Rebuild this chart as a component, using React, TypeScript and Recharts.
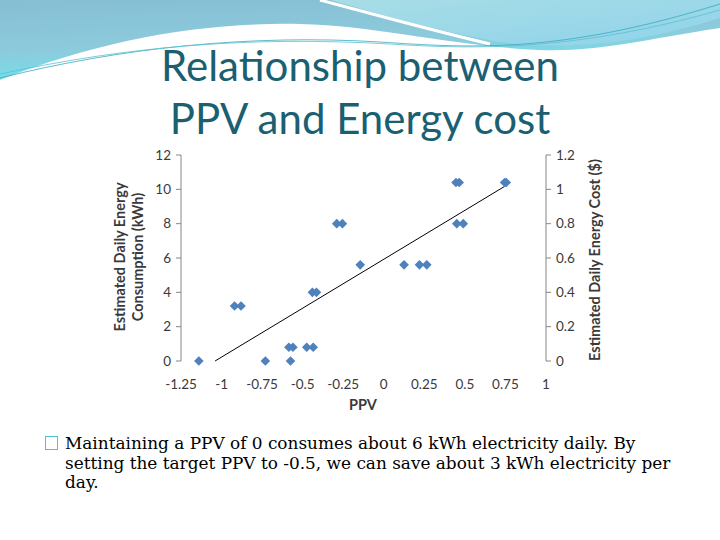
import React from 'react'
import { ScatterChart, Scatter, XAxis, YAxis } from 'recharts'

// PPV vs estimated daily energy consumption (kWh)
const ppv = [
  -1.14, -0.92, -0.88, -0.73, -0.575, -0.585, -0.56, -0.475, -0.435, -0.44, -0.415, -0.29,
  -0.255, -0.145, 0.125, 0.22, 0.265, 0.45, 0.49, 0.445, 0.465, 0.745, 0.755,
]
const kwh = [
  0, 3.2, 3.2, 0, 0, 0.8, 0.8, 0.8, 0.8, 4, 4, 8, 8, 5.6, 5.6, 5.6, 5.6, 8, 8, 10.4, 10.4,
  10.4, 10.4,
]
// same points read on the secondary (cost) axis
const cost = [
  0, 0.32, 0.32, 0, 0, 0.08, 0.08, 0.08, 0.08, 0.4, 0.4, 0.8, 0.8, 0.56, 0.56, 0.56, 0.56, 0.8,
  0.8, 1.04, 1.04, 1.04, 1.04,
]

// linear trend line end points
const trendX = [-1.04, 0.75]
const trendY = [0, 10.2]

const xTicks = [-1.25, -1, -0.75, -0.5, -0.25, 0, 0.25, 0.5, 0.75, 1]
const kwhTicks = [0, 2, 4, 6, 8, 10, 12]
const costTicks = [0, 0.2, 0.4, 0.6, 0.8, 1, 1.2]

const points = ppv.map((x, i) => ({ x, y: kwh[i] }))
const costPoints = ppv.map((x, i) => ({ x, y: cost[i] }))
const trend = trendX.map((x, i) => ({ x, y: trendY[i] }))

const tickStyle = { fill: '#3a3a3a', fontSize: 13.5, fontFamily: 'Lato' }
const axisGray = '#868686'

const Diamond = (props: any) => {
  const { cx, cy } = props
  const r = 4.8
  return (
    <polygon
      points={`${cx},${cy - r} ${cx + r},${cy} ${cx},${cy + r} ${cx - r},${cy}`}
      fill="#4f81bd"
    />
  )
}

const Nothing = () => <g />

function Background() {
  return (
    <svg width={720} height={160} style={{ position: 'absolute', left: 0, top: 0 }}>
      <defs>
        <linearGradient id="bgA" x1="0" y1="0" x2="0.3" y2="1">
          <stop offset="0" stopColor="#86bed4" />
          <stop offset="0.6" stopColor="#8ccbdc" />
          <stop offset="1" stopColor="#6fe3ee" />
        </linearGradient>
        <linearGradient id="bgB" x1="0" y1="0" x2="1" y2="1">
          <stop offset="0" stopColor="#a8dde6" />
          <stop offset="1" stopColor="#8fd3ea" />
        </linearGradient>
      </defs>
      <path d="M0,0 L720,0 L720,28 C640,40 600,52 540,50 C450,46 380,26 300,24 C200,22 100,40 0,80 Z" fill="url(#bgA)" />
      <path d="M330,0 C380,14 430,30 500,42 C580,52 650,40 720,18 L720,0 Z" fill="url(#bgB)" />
      <path d="M320,0 C380,16 430,30 490,44" stroke="#ffffff" strokeWidth={3} fill="none" />
      <path d="M0,78 C120,48 250,34 380,42 C470,48 560,54 720,4" stroke="#3aa9c0" strokeWidth={0.8} fill="none" />
      <path d="M0,74 C130,46 250,36 390,44 C480,50 580,50 720,10" stroke="#5cc0d0" strokeWidth={0.8} fill="none" />
    </svg>
  )
}

export default function App() {
  return (
    <div
      style={{
        position: 'absolute',
        left: 0,
        top: 0,
        width: 720,
        height: 540,
        background: '#ffffff',
        overflow: 'hidden',
      }}
    >
      <Background />
      <div
        style={{
          position: 'absolute',
          left: 0,
          top: 39,
          width: 720,
          textAlign: 'center',
          fontFamily: 'Lato',
          fontSize: 42,
          lineHeight: '53px',
          color: '#1b5f73',
        }}
      >
        Relationship between
        <br />
        PPV and Energy cost
      </div>

      <div style={{ position: 'absolute', left: 0, top: 0 }}>
        <ScatterChart width={720} height={540} margin={{ top: 155, right: 124, bottom: 149, left: 131 }}>
          <XAxis
            type="number"
            dataKey="x"
            domain={[-1.25, 1]}
            ticks={xTicks}
            interval={0}
            axisLine={false}
            tickLine={false}
            tick={tickStyle}
            tickMargin={12}
            height={30}
            allowDataOverflow
          />
          <YAxis
            yAxisId="left"
            type="number"
            dataKey="y"
            domain={[0, 12]}
            ticks={kwhTicks}
            interval={0}
            axisLine={{ stroke: axisGray }}
            tickLine={{ stroke: axisGray }}
            tickSize={5}
            tickMargin={5}
            tick={tickStyle}
            width={50}
          />
          <YAxis
            yAxisId="right"
            orientation="right"
            type="number"
            dataKey="y"
            domain={[0, 1.2]}
            ticks={costTicks}
            interval={0}
            axisLine={{ stroke: axisGray }}
            tickLine={{ stroke: axisGray }}
            tickSize={5}
            tickMargin={5}
            tick={tickStyle}
            width={50}
          />
          <Scatter yAxisId="right" data={costPoints} shape={Nothing} isAnimationActive={false} />
          <Scatter
            yAxisId="left"
            data={trend}
            line={{ stroke: '#000000', strokeWidth: 1 }}
            shape={Nothing}
            isAnimationActive={false}
          />
          <Scatter yAxisId="left" data={points} shape={Diamond} isAnimationActive={false} />
        </ScatterChart>
      </div>

      <div
        style={{
          position: 'absolute',
          left: 129,
          top: 257,
          transform: 'translate(-50%, -50%) rotate(-90deg)',
          fontFamily: 'Lato',
          fontWeight: 'bold',
          fontSize: 14.5,
          lineHeight: '18px',
          color: '#3a3a3a',
          textAlign: 'center',
          whiteSpace: 'nowrap',
        }}
      >
        Estimated Daily Energy
        <br />
        Consumption (kWh)
      </div>
      <div
        style={{
          position: 'absolute',
          left: 594,
          top: 260,
          transform: 'translate(-50%, -50%) rotate(-90deg)',
          fontFamily: 'Lato',
          fontWeight: 'bold',
          fontSize: 14.5,
          color: '#3a3a3a',
          whiteSpace: 'nowrap',
        }}
      >
        Estimated Daily Energy Cost ($)
      </div>
      <div
        style={{
          position: 'absolute',
          left: 363,
          top: 404,
          transform: 'translate(-50%, -50%)',
          fontFamily: 'Lato',
          fontWeight: 'bold',
          fontSize: 14.5,
          color: '#3a3a3a',
        }}
      >
        PPV
      </div>

      <div
        style={{
          position: 'absolute',
          left: 45,
          top: 434,
          width: 670,
          fontFamily: 'DejaVu Serif',
          fontSize: 16.9,
          lineHeight: '19.5px',
          color: '#000000',
          paddingLeft: 20,
          textIndent: -20,
          whiteSpace: 'nowrap',
        }}
      >
        <span
          style={{
            display: 'inline-block',
            width: 13,
            height: 14,
            border: '1.5px solid #4bc3d6',
            boxSizing: 'border-box',
            marginRight: 7,
            textIndent: 0,
            verticalAlign: '-1px',
          }}
        />
        Maintaining a PPV of 0 consumes about 6 kWh electricity daily. By
        <br />
        setting the target PPV to -0.5, we can save about 3 kWh electricity per
        <br />
        day.
      </div>
    </div>
  )
}
